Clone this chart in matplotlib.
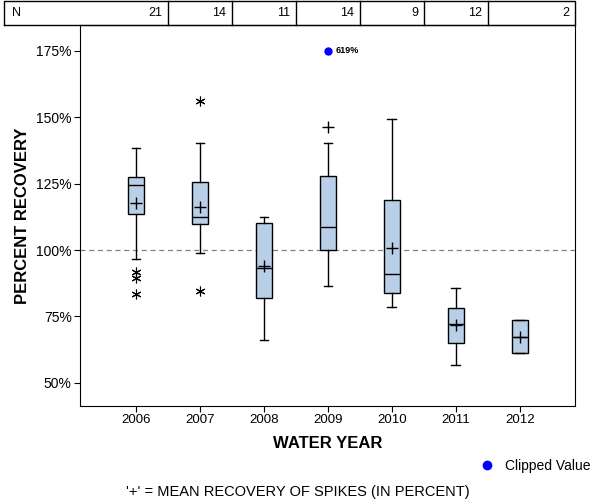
import matplotlib
matplotlib.use('Agg')
import matplotlib.pyplot as plt
from matplotlib.transforms import blended_transform_factory

plt.rcParams['font.family'] = ['Liberation Sans', 'DejaVu Sans']

# Données
years = ['2006', '2007', '2008', '2009', '2010', '2011', '2012']
counts = [21, 14, 11, 14, 9, 12, 2]
q1 = [113.4, 109.7, 81.8, 99.9, 83.7, 64.9, 61.1]
med = [124.4, 112.3, 93.1, 108.5, 90.8, 72.1, 67.1]
q3 = [127.4, 125.5, 110.1, 127.9, 118.7, 78.0, 73.5]
whis_lo = [96.5, 98.8, 66.1, 86.3, 78.4, 56.6, 61.1]
whis_hi = [138.3, 140.2, 112.3, 140.4, 149.4, 85.6, 73.5]
means = [117.6, 116.1, 94.1, 146.2, 100.9, 71.6, 67.1]
outliers = [[91.7, 89.6, 83.6], [156.1, 84.6], [], [], [], [], []]

# valeur écrêtée
clip_year = '2009'
clip_value = 619
clip_at = 175

fig = plt.figure(figsize=(6, 5), dpi=100)
ax = fig.add_axes([80/600, 1-406/500, 495/600, 381/500])

stats = []
for i in range(len(years)):
    stats.append(dict(med=med[i], q1=q1[i], q3=q3[i], whislo=whis_lo[i],
                      whishi=whis_hi[i], mean=means[i], fliers=outliers[i]))

pos = list(range(len(years)))
ax.bxp(stats, positions=pos, widths=0.24, patch_artist=True, showmeans=True,
       capwidths=0.14,
       boxprops=dict(facecolor='#b9cfe7', edgecolor='black', linewidth=1),
       medianprops=dict(color='black', linewidth=1),
       whiskerprops=dict(color='black', linewidth=1),
       capprops=dict(color='black', linewidth=1),
       meanprops=dict(marker='+', markeredgecolor='black', markersize=9,
                      markeredgewidth=1),
       flierprops=dict(marker=(6, 2, 0), markeredgecolor='black',
                       markersize=7, markeredgewidth=0.8))

ax.axhline(100, color='gray', linestyle=(0, (4, 3)), linewidth=0.9, zorder=0)

cx = years.index(clip_year)
ax.plot([cx], [clip_at], 'o', color='blue', markersize=5)
ax.text(cx + 0.12, clip_at, f'{clip_value}%', fontsize=6.5, va='center',
        ha='left', fontweight='bold')

ax.set_xlim(-0.875, 6.86)
ax.set_ylim(41.3, 184.7)
ax.set_xticks(pos)
ax.set_xticklabels(years)
ax.set_yticks([50, 75, 100, 125, 150, 175])
ax.set_yticklabels(['50%', '75%', '100%', '125%', '150%', '175%'])
ax.tick_params(axis='x', direction='out', length=4, pad=1.5, labelsize=9.5)
ax.tick_params(axis='y', direction='out', length=4, pad=2, labelsize=10)
ax.set_xlabel('WATER YEAR', fontsize=12, fontweight='bold')
ax.set_ylabel('PERCENT RECOVERY', fontsize=12, fontweight='bold')
ax.xaxis.set_label_coords(0.5, -30/381, transform=ax.transAxes)
ax.yaxis.set_label_coords(-50/495, 0.5, transform=ax.transAxes)

# tableau N en haut
trans = blended_transform_factory(ax.transData, fig.transFigure)
x_left = -0.875 - 76 / 64
x_right = 6.86
y_top = 1 - 1/500
y_bot = 1 - 25/500
ax.plot([x_left, x_right, x_right, x_left, x_left],
        [y_bot, y_bot, y_top, y_top, y_bot], color='black', lw=1,
        transform=trans, clip_on=False)
for b in [0.5, 1.5, 2.5, 3.5, 4.5, 5.5]:
    ax.plot([b, b], [y_bot, y_top], color='black', lw=1, transform=trans,
            clip_on=False)
ymid = (y_top + y_bot) / 2
ax.text(x_left + 0.12, ymid, 'N', fontsize=9, va='center', ha='left',
        transform=trans)
right_edges = [0.5, 1.5, 2.5, 3.5, 4.5, 5.5, x_right]
for i, n in enumerate(counts):
    ax.text(right_edges[i] - 0.09, ymid, str(n), fontsize=9, va='center',
            ha='right', transform=trans)

# légende et note
fig.lines.append(plt.Line2D([487/600], [1-465/500], marker='o', color='blue',
                            markersize=6, transform=fig.transFigure))
fig.text(505/600, 1-466/500, 'Clipped Value', fontsize=10, va='center')
fig.text(298/600, 1-492/500, "'+' = MEAN RECOVERY OF SPIKES (IN PERCENT)",
         fontsize=10.5, va='center', ha='center')

fig.savefig('out.png', dpi=100)
